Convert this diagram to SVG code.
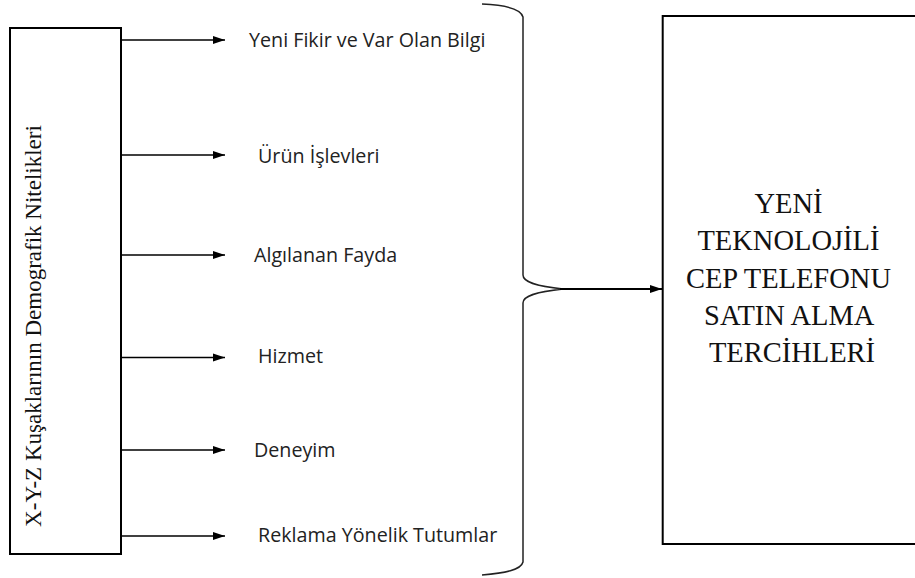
<svg xmlns="http://www.w3.org/2000/svg" width="915" height="578" viewBox="0 0 915 578">
<style>
.box{fill:#fff;stroke:#000;stroke-width:2}
.lbl{font-family:"Open Sans","Liberation Sans",sans-serif;font-size:19.7px;font-weight:400;fill:#222}
.serif{font-family:"Liberation Serif","Times New Roman",serif;font-weight:400;fill:#111}
.arr{stroke:#000;stroke-width:1.5;fill:none;marker-end:url(#ah)}
.brace{stroke:#222;stroke-width:1.5;fill:none}
</style>
<defs>
<marker id="ah" markerWidth="12" markerHeight="10" refX="12" refY="5" orient="auto" markerUnits="userSpaceOnUse">
<path d="M0,1 L12,5 L0,9 Z" fill="#000"/>
</marker>
</defs>
<rect width="915" height="578" fill="#fff"/>
<g id="source">
<rect class="box" x="10" y="28" width="111" height="526"/>
<text class="serif" font-size="23" text-anchor="middle" transform="translate(41,326) rotate(-90)">X-Y-Z Kuşaklarının Demografik Nitelikleri</text>
</g>
<g id="target">
<rect class="box" x="662.7" y="16" width="270" height="528"/>
<text class="serif" font-size="28.5" text-anchor="middle">
<tspan x="792" y="213">YENİ</tspan>
<tspan x="792" y="250.3">TEKNOLOJİLİ</tspan>
<tspan x="792" y="287.6">CEP TELEFONU</tspan>
<tspan x="792" y="324.9">SATIN ALMA</tspan>
<tspan x="792" y="362.2">TERCİHLERİ</tspan>
</text>
</g>
<g id="f1"><text class="lbl" x="249" y="47">Yeni Fikir ve Var Olan Bilgi</text></g>
<g id="f2"><text class="lbl" x="258" y="163">Ürün İşlevleri</text></g>
<g id="f3"><text class="lbl" x="254" y="262">Algılanan Fayda</text></g>
<g id="f4"><text class="lbl" x="258" y="363">Hizmet</text></g>
<g id="f5"><text class="lbl" x="254" y="457">Deneyim</text></g>
<g id="f6"><text class="lbl" x="258" y="542">Reklama Yönelik Tutumlar</text></g>
<g id="brace">
<path class="brace" d="M482,4 C505,5 521,9 523,17 L523,275 C523,282 535,286 563,289 C535,292 523,296 523,303 L523,562 C521,570 505,573 482,575"/>
</g>
<g id="connectors">
<line class="arr" x1="121" y1="40" x2="225" y2="40"/>
<line class="arr" x1="121" y1="155" x2="225" y2="155"/>
<line class="arr" x1="121" y1="255" x2="225" y2="255"/>
<line class="arr" x1="121" y1="357.5" x2="225" y2="357.5"/>
<line class="arr" x1="121" y1="450" x2="225" y2="450"/>
<line class="arr" x1="121" y1="536" x2="225" y2="536"/>
<line class="arr" style="stroke-width:2" x1="560" y1="289" x2="662" y2="289"/>
</g>
</svg>
